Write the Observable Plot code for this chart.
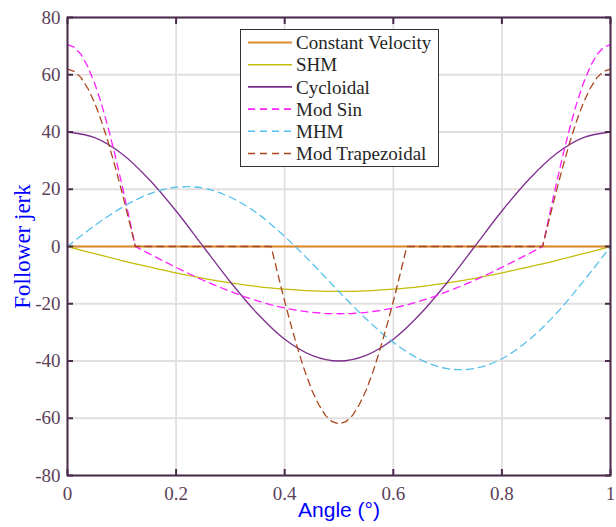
<!DOCTYPE html>
<html><head><meta charset="utf-8">
<script src="https://cdn.jsdelivr.net/npm/d3@7"></script>
<script src="https://cdn.jsdelivr.net/npm/@observablehq/plot@0.6"></script>
<style>
body{margin:0;background:#fff;}
#wrap{position:relative;width:616px;height:527px;}
#legend{position:absolute;left:240px;top:29px;width:199px;height:138px;box-sizing:border-box;border:1px solid #333;background:#fff;}
</style></head><body><div id="wrap"></div>
<script>
// ---- data ----
const seriesNames = ["Constant Velocity","SHM","Cycloidal","Mod Sin","MHM","Mod Trapezoidal"];
const seriesColors = ["#dc8a2c","#c4bd0c","#7e2f8e","#ff1eff","#55c0ec","#a8461c"];
const seriesDash = [null,null,null,"7,5","7,5","7,5"];
const seriesWidth = [2,1.3,1.3,1.3,1.3,1.3];

const cvX = [0,1];
const cvY = [0,0];

const smoothX = [0,0.05,0.1,0.15,0.2,0.25,0.3,0.35,0.4,0.45,0.5,0.55,0.6,0.65,0.7,0.75,0.8,0.85,0.9,0.95,1];
const shmY = [0,-2.5,-4.9,-7.1,-9.2,-11.1,-12.7,-14.0,-14.9,-15.5,-15.7,-15.5,-14.9,-14.0,-12.7,-11.1,-9.2,-7.1,-4.9,-2.5,0];
const cycY = [40,38.0,32.4,23.5,12.4,0,-12.4,-23.5,-32.4,-38.0,-40,-38.0,-32.4,-23.5,-12.4,0,12.4,23.5,32.4,38.0,40];
const mhmY = [0,7.3,13.6,18.3,20.7,20.4,17.2,11.5,3.5,-5.8,-15.8,-25.3,-33.5,-39.5,-42.7,-42.6,-39.2,-32.6,-23.4,-12.2,0];

const modSinX = [0,0.0125,0.025,0.0375,0.05,0.0625,0.075,0.0875,0.1,0.1125,0.125,
  0.15,0.175,0.2,0.225,0.25,0.275,0.3,0.325,0.35,0.375,0.4,0.425,0.45,0.475,0.5,
  0.525,0.55,0.575,0.6,0.625,0.65,0.675,0.7,0.725,0.75,0.775,0.8,0.825,0.85,
  0.875,0.8875,0.9,0.9125,0.925,0.9375,0.95,0.9625,0.975,0.9875,1];
const modSinY = [70.5,69.6,67.1,62.8,57.0,49.9,41.4,32.0,21.8,11.0,0,
  -2.5,-4.9,-7.3,-9.6,-11.8,-13.8,-15.7,-17.5,-19.0,-20.4,-21.5,-22.4,-23.0,-23.4,-23.5,
  -23.4,-23.0,-22.4,-21.5,-20.4,-19.0,-17.5,-15.7,-13.8,-11.8,-9.6,-7.3,-4.9,-2.5,
  0,11.0,21.8,32.0,41.4,49.9,57.0,62.8,67.1,69.6,70.5];

const trapX = [0,0.0125,0.025,0.0375,0.05,0.0625,0.075,0.0875,0.1,0.1125,0.125,
  0.375,0.3875,0.4,0.4125,0.425,0.4375,0.45,0.4625,0.475,0.4875,0.5,
  0.5125,0.525,0.5375,0.55,0.5625,0.575,0.5875,0.6,0.6125,0.625,
  0.875,0.8875,0.9,0.9125,0.925,0.9375,0.95,0.9625,0.975,0.9875,1];
const trapY = [62,61.2,59.0,55.2,50.2,43.8,36.4,28.1,19.2,9.7,0,
  0,-9.7,-19.2,-28.1,-36.4,-43.8,-50.2,-55.2,-59.0,-61.2,-62,
  -61.2,-59.0,-55.2,-50.2,-43.8,-36.4,-28.1,-19.2,-9.7,0,
  0,9.7,19.2,28.1,36.4,43.8,50.2,55.2,59.0,61.2,62];

const xTicks = [0,0.2,0.4,0.6,0.8,1];
const yTicks = [-80,-60,-40,-20,0,20,40,60,80];
const xLabel = "Angle (°)";
const yLabel = "Follower jerk";

// ---- build ----
const seriesData = [
  [cvX,cvY],[smoothX,shmY],[smoothX,cycY],[modSinX,modSinY],[smoothX,mhmY],[trapX,trapY]
];
const curves = ["linear","catmull-rom","catmull-rom","linear","catmull-rom","linear"];
const axisColor = "#4b2b4b";
const labelColor = "#5c4159";
const gridColor = "#e3dfe1";
const serif = "Liberation Serif";
const sans = "Liberation Sans";

const lineMarks = seriesData.map(([xs,ys],i) =>
  Plot.line(xs.map((x,j)=>({x, y: ys[j]})), {
    x:"x", y:"y", stroke: seriesColors[i], strokeWidth: seriesWidth[i],
    strokeDasharray: seriesDash[i] || undefined, curve: curves[i]
  })
);

const chart = Plot.plot({
  width: 616, height: 527,
  marginLeft: 67, marginRight: 6, marginTop: 17, marginBottom: 52,
  x: {domain: [0,1]},
  y: {domain: [-80,80]},
  marks: [
    Plot.gridX(xTicks, {stroke: gridColor, strokeOpacity: 1, strokeWidth: 1.8}),
    Plot.gridY(yTicks, {stroke: gridColor, strokeOpacity: 1, strokeWidth: 1.8}),
    ...lineMarks,
    Plot.frame({stroke: axisColor, strokeWidth: 2}),
    Plot.axisX(xTicks, {anchor: "bottom", tickSize: -6, tickPadding: 16.5, strokeWidth: 2, stroke: axisColor, fill: labelColor, tickFormat: d => String(d), label: null, fontSize: 19, fontFamily: serif}),
    Plot.axisX(xTicks, {anchor: "top", tickSize: -6, strokeWidth: 2, stroke: axisColor, tickFormat: () => "", label: null}),
    Plot.axisY(yTicks, {anchor: "left", tickSize: -6, tickPadding: 13, strokeWidth: 2, stroke: axisColor, fill: labelColor, tickFormat: d => String(d), label: null, fontSize: 19, fontFamily: serif}),
    Plot.axisY(yTicks, {anchor: "right", tickSize: -6, strokeWidth: 2, stroke: axisColor, tickFormat: () => "", label: null}),
    Plot.text([xLabel], {frameAnchor: "bottom", textAnchor: "middle", dy: 41.5, fill: "#0000ff", fontSize: 21, fontFamily: sans}),
    Plot.text([yLabel], {frameAnchor: "left", textAnchor: "middle", dx: -45, rotate: -90, fill: "#0000ff", fontSize: 23, fontFamily: serif})
  ]
});
const wrap = document.getElementById("wrap");
wrap.appendChild(chart);

// legend overlay (inside the plot area, as in the reference)
const leg = document.createElement("div");
leg.id = "legend";
const rowH = 22.2, y0 = 12.5;
let svg = `<svg width="197" height="136" xmlns="http://www.w3.org/2000/svg" style="display:block">`;
seriesNames.forEach((name,i) => {
  const y = y0 + i*rowH;
  svg += `<line x1="7" x2="51" y1="${y}" y2="${y}" stroke="${seriesColors[i]}" stroke-width="${i===0?2:1.6}" ${seriesDash[i]?`stroke-dasharray="${seriesDash[i]}"`:""}/>`;
  svg += `<text x="55" y="${y}" dy="0.35em" font-family="${serif}" font-size="19" fill="#262626">${name}</text>`;
});
svg += `</svg>`;
leg.innerHTML = svg;
wrap.appendChild(leg);
</script></body></html>
